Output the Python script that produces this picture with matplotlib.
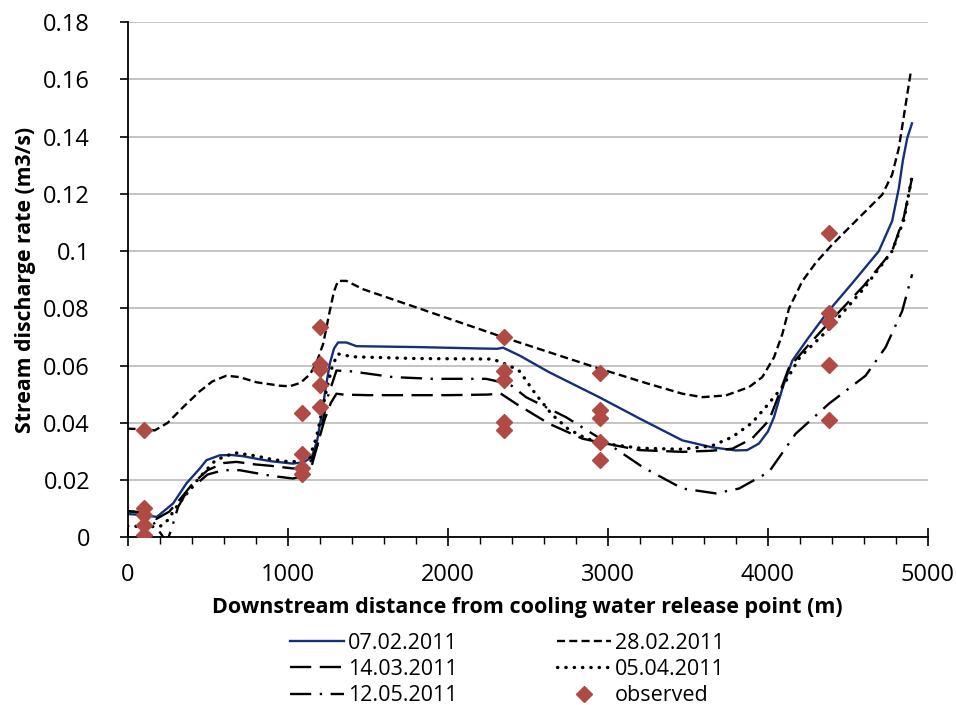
import matplotlib.pyplot as plt
import numpy as np

plt.rcParams['font.family'] = ['Open Sans', 'DejaVu Sans']

x_0702 = [0, 100, 183, 285, 368, 450, 493, 576, 650, 720, 805, 900, 1033, 1100, 1150,
          1185, 1210, 1240, 1263, 1290, 1315, 1367, 1430, 1800, 2200, 2312, 2345, 2450,
          2634, 2946, 3200, 3466, 3650, 3799, 3870, 3944, 4000, 4038, 4090, 4152, 4250,
          4370, 4530, 4693, 4776, 4818, 4843, 4870, 4900]
y_0702 = [0.0082, 0.0078, 0.0072, 0.0119, 0.0189, 0.0240, 0.0270, 0.0287, 0.0288, 0.0284,
          0.0275, 0.0266, 0.0258, 0.0263, 0.0280, 0.0340, 0.0420, 0.0530, 0.0606, 0.0660,
          0.0681, 0.0681, 0.0668, 0.0665, 0.0660, 0.0659, 0.0663, 0.0635, 0.0577, 0.0490,
          0.0415, 0.0339, 0.0315, 0.0304, 0.0305, 0.0328, 0.0370, 0.0420, 0.0520, 0.0617,
          0.0695, 0.0785, 0.0890, 0.1000, 0.1105, 0.1220, 0.1316, 0.1394, 0.1446]

x_2802 = [0, 100, 170, 250, 347, 450, 530, 618, 700, 805, 952, 1013, 1080, 1140, 1180,
          1222, 1263, 1290, 1315, 1367, 1471, 2348, 2951, 3258, 3466, 3591, 3737, 3882,
          3965, 4038, 4090, 4132, 4215, 4300, 4402, 4568, 4714, 4776, 4818, 4860, 4891, 4905]
y_2802 = [0.0380, 0.0378, 0.0374, 0.0400, 0.0455, 0.0510, 0.0545, 0.0565, 0.0560, 0.0542,
          0.0530, 0.0528, 0.0540, 0.0570, 0.0610, 0.0676, 0.0790, 0.0860, 0.0896, 0.0896,
          0.0867, 0.0699, 0.0589, 0.0536, 0.0502, 0.0490, 0.0496, 0.0525, 0.0560, 0.0629,
          0.0710, 0.0800, 0.0895, 0.0960, 0.1023, 0.1116, 0.1197, 0.1267, 0.1360, 0.1510,
          0.1620, 0.1630]

x_1403 = [0, 100, 180, 260, 330, 410, 500, 600, 680, 800, 900, 1033, 1100, 1150, 1190,
          1230, 1270, 1305, 1350, 1500, 2000, 2250, 2330, 2427, 2634, 2842, 2988, 3200,
          3466, 3650, 3778, 3900, 4007, 4070, 4132, 4250, 4381, 4600, 4776, 4850, 4900]
y_1403 = [0.0092, 0.0088, 0.0065, 0.0090, 0.0135, 0.0190, 0.0235, 0.0260, 0.0264, 0.0255,
          0.0250, 0.0241, 0.0245, 0.0270, 0.0330, 0.0410, 0.0470, 0.0502, 0.0499, 0.0497,
          0.0497, 0.0499, 0.0503, 0.0467, 0.0397, 0.0345, 0.0328, 0.0305, 0.0299, 0.0303,
          0.0310, 0.0345, 0.0409, 0.0500, 0.0594, 0.0670, 0.0750, 0.0880, 0.1000, 0.1120,
          0.1255]

x_0504 = [0, 100, 202, 250, 306, 380, 451, 550, 670, 800, 900, 1013, 1100, 1138, 1180,
          1242, 1280, 1314, 1408, 1800, 2281, 2385, 2450, 2550, 2650, 2750, 2850, 2946,
          3200, 3466, 3650, 3778, 3900, 3986, 4090, 4200, 4370, 4600, 4776, 4850, 4900]
y_0504 = [0.0040, 0.0038, 0.0038, 0.0060, 0.0107, 0.0160, 0.0211, 0.0270, 0.0296, 0.0285,
          0.0273, 0.0264, 0.0268, 0.0281, 0.0350, 0.0513, 0.0600, 0.0641, 0.0631, 0.0625,
          0.0623, 0.0600, 0.0580, 0.0500, 0.0430, 0.0380, 0.0350, 0.0330, 0.0312, 0.0308,
          0.0320, 0.0351, 0.0400, 0.0455, 0.0525, 0.0630, 0.0722, 0.0870, 0.1000, 0.1110,
          0.1260]

x_1205 = [0, 100, 160, 200, 225, 250, 280, 316, 360, 410, 500, 600, 700, 800, 900, 1033,
          1100, 1150, 1200, 1250, 1305, 1400, 1659, 1907, 2240, 2385, 2489, 2739, 2988,
          3217, 3466, 3674, 3820, 4007, 4173, 4381, 4610, 4735, 4839, 4901]
y_1205 = [0.0092, 0.0085, 0.0055, 0.0020, 0.0000, -0.0010, 0.0040, 0.0107, 0.0150, 0.0177,
          0.0220, 0.0235, 0.0235, 0.0225, 0.0215, 0.0206, 0.0215, 0.0250, 0.0350, 0.0490,
          0.0583, 0.0580, 0.0560, 0.0554, 0.0554, 0.0536, 0.0490, 0.0420, 0.0333, 0.0246,
          0.0171, 0.0154, 0.0171, 0.0229, 0.0362, 0.0467, 0.0565, 0.0664, 0.0791, 0.0919]

x_obs = [100, 100, 100, 100, 100,
         1090, 1090, 1090, 1090,
         1200, 1200, 1200, 1200, 1200,
         2350, 2350, 2350, 2350, 2350,
         2950, 2950, 2950, 2950, 2950,
         4380, 4380, 4380, 4380, 4380]
y_obs = [0.0376, 0.0102, 0.0078, 0.0043, 0.0009,
         0.0434, 0.0290, 0.0244, 0.0221,
         0.0736, 0.0606, 0.0589, 0.0534, 0.0455,
         0.0699, 0.0580, 0.0551, 0.0403, 0.0374,
         0.0573, 0.0446, 0.0417, 0.0333, 0.0270,
         0.1062, 0.0785, 0.0754, 0.0603, 0.0412]

fig = plt.figure(figsize=(9.56, 7.05), dpi=100)
ax = fig.add_axes([0.1334, 0.2376, 0.8373, 0.7312])

lw = 1.7
l1, = ax.plot(x_0702, y_0702, color='#15307a', lw=lw, label='07.02.2011')
l2, = ax.plot(x_2802, y_2802, color='black', lw=lw, dashes=(3.4, 1.8), label='28.02.2011')
l3, = ax.plot(x_1403, y_1403, color='black', lw=lw, dashes=(9, 3.6), label='14.03.2011')
l4, = ax.plot(x_0504, y_0504, color='black', lw=2.4, dashes=(0.1, 2.4),
              dash_capstyle='round', label='05.04.2011')
l5, = ax.plot(x_1205, y_1205, color='black', lw=lw, dashes=(9, 3.6, 1, 3.6),
              label='12.05.2011')
l6, = ax.plot(x_obs, y_obs, linestyle='none', marker='D', markersize=8.5, color='#b04a44',
              label='observed', zorder=5)

ax.set_xlim(0, 5000)
ax.set_ylim(0, 0.18)
ax.set_xticks(np.arange(0, 5001, 1000))
ax.set_xticks(np.arange(0, 5001, 200), minor=True)
ax.set_yticks(np.arange(0, 0.181, 0.02))
ax.set_yticklabels(['0', '0.02', '0.04', '0.06', '0.08', '0.1', '0.12', '0.14', '0.16', '0.18'])
ax.grid(axis='y', color='#bfbfbf', lw=1.3)
ax.set_axisbelow(True)
for s in ['top', 'right']:
    ax.spines[s].set_visible(False)
for s in ['left', 'bottom']:
    ax.spines[s].set_linewidth(1.3)
ax.tick_params(axis='y', which='major', length=6, width=1.2, labelsize=17, pad=21)
ax.tick_params(axis='x', which='major', direction='inout', length=13, width=1.2,
               labelsize=17, pad=12)
ax.tick_params(axis='x', which='minor', direction='out', length=5, width=1.0)

ax.set_xlabel('Downstream distance from cooling water release point (m)', fontsize=15.5,
              fontweight='bold', labelpad=7)
ax.set_ylabel('Stream discharge rate (m3/s)', fontsize=15.3, fontweight='bold', labelpad=5)

ax.legend(handles=[l1, l3, l5, l2, l4, l6], loc='upper left',
          bbox_to_anchor=(0.2919, 0.1177), bbox_transform=fig.transFigure, ncol=2,
          frameon=False, fontsize=15.5, handlelength=2.5, handletextpad=0.2,
          columnspacing=4.6, labelspacing=0.24, borderpad=0)

fig.savefig('out.png', dpi=100)
